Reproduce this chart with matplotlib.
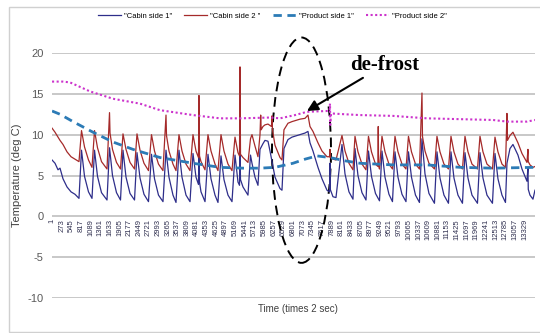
import numpy as np
import matplotlib.pyplot as plt
from matplotlib.patches import Ellipse, Rectangle

# sample index (times 2 sec) and temperature (deg C)
cabin1_t = [1, 85, 169, 226, 310, 423, 536, 649, 761,
            832, 917, 1029, 1128,
            1199, 1283, 1396, 1551,
            1622, 1706, 1819, 1932,
            2002, 2087, 2200, 2327,
            2397, 2482, 2594, 2721,
            2806, 2891, 3003, 3130,
            3215, 3299, 3412, 3497,
            3581, 3666, 3779, 3892,
            3976, 4061, 4131, 4145, 4160, 4202, 4315,
            4399, 4484, 4597, 4681,
            4766, 4850, 4963, 5076,
            5161, 5245, 5288, 5302, 5316, 5386, 5527,
            5598, 5640, 5725, 5809,
            5866, 5950, 6006, 6091, 6148, 6289, 6430, 6486,
            6542, 6655, 6768, 6994, 7135, 7219, 7276, 7360, 7501, 7614, 7755,
            7826, 7840, 7848, 7924, 8009,
            8178, 8263, 8375, 8488,
            8545, 8629, 8742, 8855,
            8925, 9010, 9123, 9236,
            9306, 9391, 9503, 9602,
            9673, 9757, 9870, 9983,
            10053, 10138, 10251, 10363,
            10434, 10519, 10631, 10786,
            10857, 10942, 11054, 11181,
            11252, 11336, 11449, 11576,
            11647, 11731, 11844, 11999,
            12070, 12154, 12267, 12422,
            12493, 12577, 12690, 12789,
            12831, 12916, 13000, 13141, 13254, 13395, 13423, 13432, 13480, 13564, 13621]
cabin1_v = [6.9, 6.5, 5.7, 5.9, 4.6, 3.6, 3.0, 2.7, 2.2,
            8.1, 4.9, 3.0, 2.2,
            8.1, 4.9, 2.9, 2.0,
            8.4, 5.0, 2.9, 2.0,
            8.1, 4.8, 2.8, 2.0,
            7.8, 4.7, 2.7, 1.8,
            7.6, 4.6, 2.6, 1.8,
            8.1, 4.8, 2.6, 1.7,
            8.1, 4.8, 2.6, 1.8,
            7.7, 4.8, 3.9, 8.7, 4.2, 3.0, 1.8,
            7.6, 4.6, 2.6, 1.7,
            7.4, 4.5, 2.6, 1.8,
            7.5, 4.2, 3.8, 7.9, 4.5, 3.6, 2.6,
            7.5, 6.5, 4.8, 3.8,
            8.2, 8.9, 9.3, 9.2, 8.0, 4.8, 3.4, 3.2,
            8.3, 9.4, 9.7, 10.0, 10.2, 10.4, 9.0, 8.0, 6.0, 4.6, 3.2,
            3.0, 6.5, 3.3, 2.4, 2.3,
            8.8, 5.2, 3.0, 2.1,
            8.3, 5.0, 2.9, 2.0,
            8.0, 4.9, 2.8, 1.9,
            8.0, 4.8, 2.7, 1.8,
            7.9, 4.8, 2.7, 1.8,
            7.9, 4.8, 2.6, 1.7,
            9.5, 5.2, 2.8, 1.6,
            7.9, 4.7, 2.6, 1.6,
            7.9, 4.7, 2.6, 1.6,
            7.8, 4.7, 2.6, 1.6,
            7.8, 4.7, 2.6, 1.6,
            7.7, 4.6, 2.6, 1.7,
            6.5, 8.3, 8.8, 7.5, 5.8, 4.3, 6.0, 3.3, 2.6, 2.1, 3.2]

cabin2_t = [1, 85, 226, 310, 423, 536, 649, 761,
            832, 917, 1029, 1128,
            1199, 1283, 1396, 1551,
            1622, 1636, 1706, 1819, 1932,
            2002, 2087, 2200, 2327,
            2397, 2482, 2594, 2721,
            2806, 2891, 3003, 3130,
            3215, 3229, 3299, 3412, 3497,
            3581, 3666, 3779, 3892,
            3976, 4061, 4131, 4145, 4160, 4202, 4315,
            4399, 4484, 4597, 4681,
            4766, 4850, 4963, 5076,
            5161, 5245, 5288, 5302, 5316, 5386, 5527,
            5598, 5640, 5725, 5809,
            5866, 5885, 5899, 5950, 6006, 6091, 6190, 6204, 6218, 6289, 6430, 6486,
            6542, 6655, 6768, 6994, 7135, 7219, 7276, 7360, 7501, 7614, 7755,
            7826, 7840, 7848, 7924, 8009,
            8178, 8263, 8375, 8488,
            8545, 8629, 8742, 8855,
            8925, 9010, 9123, 9193, 9201, 9210, 9236,
            9306, 9391, 9503, 9602,
            9673, 9757, 9870, 9983,
            10053, 10138, 10251, 10363,
            10434, 10448, 10519, 10631, 10786,
            10857, 10942, 11054, 11181,
            11252, 11336, 11449, 11576,
            11647, 11731, 11844, 11999,
            12070, 12154, 12267, 12422,
            12493, 12577, 12690, 12789,
            12831, 12845, 12916, 13000, 13141, 13254, 13395, 13423, 13432, 13480, 13564, 13621]
cabin2_v = [10.8, 10.3, 9.3, 8.8, 7.9, 7.3, 7.0, 6.7,
            10.5, 8.5, 6.9, 6.0,
            10.5, 8.4, 6.7, 5.8,
            12.7, 10.2, 8.2, 6.6, 5.8,
            10.1, 8.2, 6.6, 5.8,
            10.1, 8.1, 6.5, 5.6,
            10.0, 8.0, 6.4, 5.6,
            12.4, 9.9, 8.0, 6.4, 5.6,
            10.0, 8.0, 6.4, 5.6,
            10.0, 8.0, 7.2, 14.8, 7.4, 6.7, 5.7,
            10.0, 8.0, 6.4, 5.6,
            10.0, 8.0, 6.4, 5.6,
            9.7, 7.8, 7.4, 18.3, 7.6, 7.2, 6.6,
            9.5, 10.0, 8.6, 7.3,
            10.0, 12.4, 10.6, 11.0, 11.2, 11.3, 11.0, 12.3, 10.6, 8.7, 7.2, 6.9,
            10.6, 11.4, 11.6, 11.9, 12.0, 12.4, 11.0, 10.4, 9.0, 8.0, 7.3,
            7.3, 8.2, 7.2, 7.0, 6.9,
            9.9, 8.0, 6.5, 5.7,
            9.8, 7.9, 6.4, 5.7,
            9.8, 7.9, 6.4, 6.1, 11.0, 6.2, 5.8,
            9.8, 7.9, 6.4, 5.8,
            9.8, 7.9, 6.4, 5.8,
            9.8, 7.9, 6.4, 5.8,
            15.1, 9.8, 8.0, 6.5, 5.8,
            9.8, 7.9, 6.4, 5.8,
            9.8, 7.9, 6.4, 5.8,
            9.8, 7.9, 6.4, 5.8,
            9.8, 7.9, 6.4, 5.8,
            9.7, 7.9, 6.4, 6.0,
            12.6, 9.3, 9.9, 10.3, 9.0, 7.7, 6.6, 8.2, 6.7, 6.3, 6.0, 6.1]

prod1_t = [1, 226, 592, 1156, 1720, 2284, 3046, 3976, 4738, 5386, 5866, 6289,
           6796, 7135, 7473, 7840, 8263, 8686, 9617, 10575, 11506, 12436, 13621]
prod1_v = [12.9, 12.5, 11.6, 10.3, 9.1, 8.2, 7.2, 6.5, 6.0, 5.9, 5.9, 6.0,
           6.5, 7.0, 7.4, 7.2, 6.8, 6.5, 6.3, 6.3, 6.0, 5.9, 6.0]

prod2_t = [1, 310, 508, 1072, 1720, 2482, 3046, 3976, 4738, 5302, 6148, 6430,
           6853, 7191, 7755, 7826, 7840, 7848, 7868, 8263, 8686, 9617, 10575,
           11506, 12436, 12831, 13395, 13621]
prod2_v = [16.5, 16.5, 16.4, 15.3, 14.4, 13.8, 13.0, 12.4, 12.0, 12.0, 12.1, 12.0,
           12.4, 12.8, 12.9, 12.9, 13.8, 11.2, 12.6, 12.5, 12.4, 12.3, 12.0,
           11.9, 11.8, 11.6, 11.6, 11.8]

series_names = ['"Cabin side 1"', '"Cabin side 2 "', '"Product side 1"', '"Product side 2"']

x_ticks = [1, 273, 545, 817, 1089, 1361, 1633, 1905, 2177, 2449, 2721, 2993,
           3265, 3537, 3809, 4081, 4353, 4625, 4897, 5169, 5441, 5713, 5985,
           6257, 6529, 6801, 7073, 7345, 7617, 7889, 8161, 8433, 8705, 8977,
           9249, 9521, 9793, 10065, 10337, 10609, 10881, 11153, 11425, 11697,
           11969, 12241, 12513, 12785, 13057, 13329]
y_ticks = [-10, -5, 0, 5, 10, 15, 20]

sans = 'Liberation Sans'


def plot_graph():
    fig = plt.figure(figsize=(5.4, 3.33), dpi=100)
    ax = fig.add_axes([0.0963, 0.1051, 0.8944, 0.7357])

    # chart border
    fig.patches.append(Rectangle((0.0167, 0.0045), 1.0, 0.975, transform=fig.transFigure,
                                 fill=False, edgecolor='#d0d0d0', lw=1.0))

    ax.plot(cabin1_t, cabin1_v, color='#2e2e8a', lw=0.9, label=series_names[0])
    ax.plot(cabin2_t, cabin2_v, color='#a52a2a', lw=0.9, label=series_names[1])
    ax.plot(prod1_t, prod1_v, color='#2c7bb6', lw=2.0, ls=(0, (3, 2)), label=series_names[2])
    ax.plot(prod2_t, prod2_v, color='#cc33cc', lw=1.5, ls=(0, (1, 1.2)), label=series_names[3])

    ax.set_xlim(0, 13621)
    ax.set_ylim(-10, 20)
    ax.set_yticks(y_ticks)
    ax.set_yticklabels([str(v) for v in y_ticks])
    ax.set_xticks(x_ticks)
    ax.set_xticklabels([str(v) for v in x_ticks])
    ax.tick_params(axis='both', length=0, labelfontfamily=sans)
    ax.tick_params(axis='x', pad=2, labelrotation=90, labelsize=5.5, labelcolor='#2f2f4f')
    ax.tick_params(axis='y', pad=6, labelsize=8, labelcolor='#595959')

    for s in ax.spines.values():
        s.set_visible(False)
    ax.spines['bottom'].set_position(('data', 0))
    ax.grid(axis='y', color='#bfbfbf', lw=1.2)
    ax.set_axisbelow(True)

    ax.set_ylabel('Temperature (deg C)', fontsize=8, color='#404040', family=sans)
    ax.yaxis.set_label_coords(-0.062, 0.5)
    ax.set_xlabel('Time (times 2 sec)', fontsize=7, color='#404040', family=sans)
    ax.xaxis.set_label_coords(0.51, -0.025)

    # de-frost marking
    ell = Ellipse((7036, 8.1), 1664, 27.6, fill=False, edgecolor='black', lw=1.4,
                  ls=(0, (5, 3)), clip_on=False)
    ax.add_patch(ell)
    ax.annotate('de-frost', xy=(7191, 12.9), xytext=(8404, 17.3),
                fontsize=15, fontweight='bold', family='Liberation Serif',
                ha='left', va='bottom',
                arrowprops=dict(arrowstyle='-|>', color='black', lw=1.5,
                                mutation_scale=16, shrinkA=0, shrinkB=0))

    fig.legend(loc='center', bbox_to_anchor=(0.504, 0.952), ncol=4, frameon=False,
               prop={'family': sans, 'size': 5.5}, handlelength=3.0, columnspacing=1.6,
               handletextpad=0.4)

    plt.savefig('out.png', dpi=100)


if __name__ == "__main__":
    plot_graph()
